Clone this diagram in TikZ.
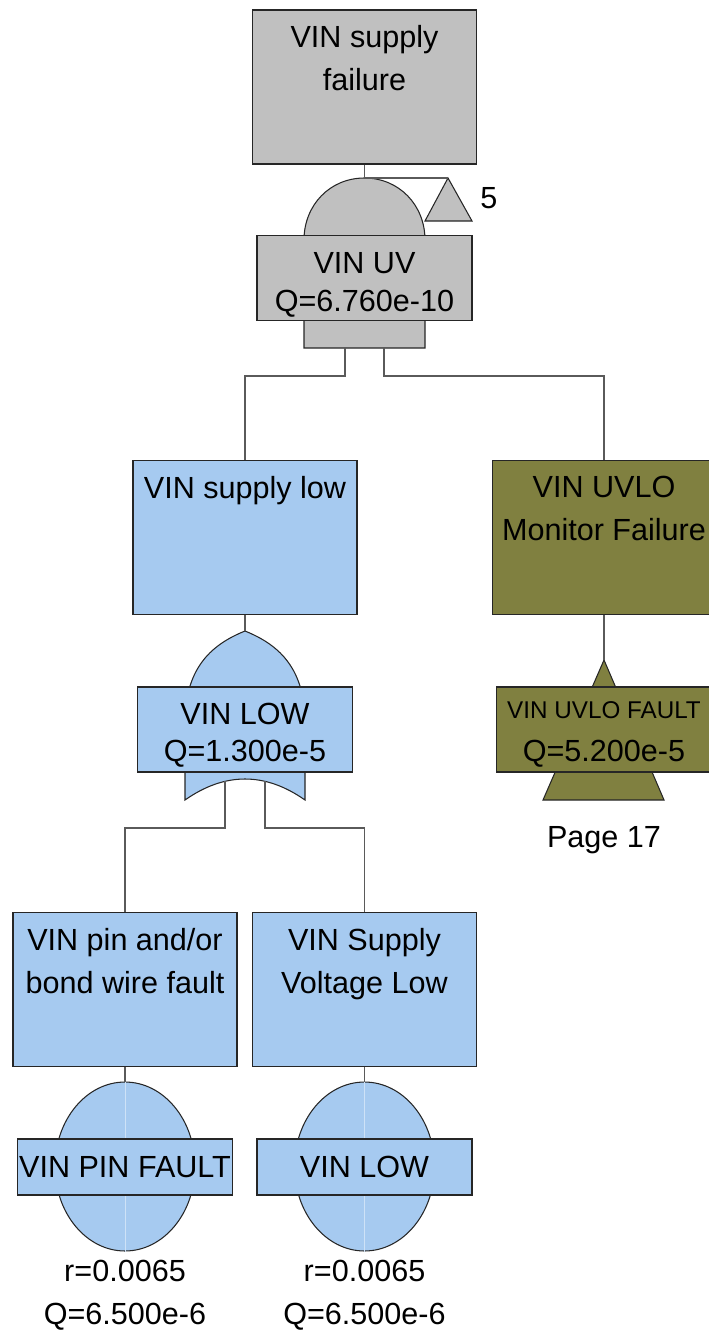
\documentclass[tikz,border=0pt]{standalone}
\usepackage{fontspec}
\setmainfont{Liberation Sans}
\usepackage{xcolor}
\usetikzlibrary{positioning,shapes.geometric}

\definecolor{evgray}{RGB}{192,192,192}
\definecolor{evblue}{RGB}{166,202,240}
\definecolor{evolive}{RGB}{128,128,64}
\definecolor{wiregray}{RGB}{90,90,90}

\tikzset{
  box/.style={draw=black!85, line width=0.6pt, minimum width=4.48cm, minimum height=3.08cm, inner sep=0pt},
  lbl/.style={draw=black!85, line width=0.6pt, minimum width=4.3cm, minimum height=1.7cm, inner sep=0pt, align=center, font=\fontsize{17.4}{21.5}\selectfont},
  lbltxt/.style={inner sep=0pt, align=center, font=\fontsize{17.4}{21.5}\selectfont},
  txt/.style={inner sep=0pt, align=center, font=\fontsize{17.4}{24.4}\selectfont},
  wire/.style={draw=wiregray, line width=0.6pt},
  gate/.style={draw=black!85, line width=0.6pt},
  basic/.style={ellipse, draw=black!85, line width=0.6pt, fill=evblue, minimum width=2.8cm, minimum height=3.38cm, inner sep=0pt}
}

\begin{document}
\begin{tikzpicture}[x=0.02cm, y=-0.02cm]
\useasboundingbox (0,0) rectangle (709,1331);
\clip (0,0) rectangle (709,1331);

% Top event
\node[box, fill=evgray] (fail) at (364.5,87) {};
\node[txt, below=9pt of fail.north] (failt) {VIN supply\\failure};

% AND gate VIN UV
\coordinate (uvtop) at (364.5,178);
\coordinate (uvl) at (345,348);
\coordinate (uvr) at (384,348);
\draw[gate, fill=evgray] (304,348) -- (304,240) .. controls (304,205) and (330,178) .. (uvtop) .. controls (399,178) and (425,205) .. (425,240) -- (425,348) -- cycle;
\node[lbl, fill=evgray] (uv) at (364.5,278) {};
\node[lbltxt] (uvt) at ([yshift=-3.8pt]uv.center) {VIN UV\\Q=6.760e-10};

% Transfer to 5
\coordinate (trtop) at (448,178);
\draw[gate, fill=evgray] (trtop) -- (472,221) -- (425,221) -- cycle;
\node[txt, anchor=west] (trnum) at (480,198) {5};
\draw[wire] (fail.south) -- (uvtop) -- (trtop);

% Second level
\node[box, fill=evblue] (low) at (245,537.5) {};
\node[txt, below=9pt of low.north] (lowt) {VIN supply low};
\node[box, fill=evolive] (uvlo) at (604,537.5) {};
\node[txt, below=9pt of uvlo.north] (uvlot) {VIN UVLO\\Monitor Failure};
\draw[wire] (uvl) -- ++(0,28) -| (low.north);
\draw[wire] (uvr) -- ++(0,28) -| (uvlo.north);

% OR gate VIN LOW
\coordinate (ortop) at (245,631);
\coordinate (orl) at (225,781);
\coordinate (orr) at (265,781);
\draw[gate, fill=evblue] (185,800) -- (185,720) .. controls (186,666) and (213,644) .. (ortop) .. controls (277,644) and (304,666) .. (305,720) -- (305,800) .. controls (265,772) and (225,772) .. (185,800) -- cycle;
\node[lbl, fill=evblue] (orlow) at (245,729.5) {};
\node[lbltxt] (orlowt) at ([yshift=-3.3pt]orlow.center) {VIN LOW\\Q=1.300e-5};
\draw[wire] (low.south) -- (ortop);

% Transfer UVLO fault
\coordinate (uftop) at (604,660);
\draw[gate, fill=evolive] (uftop) -- (664,800) -- (543,800) -- cycle;
\node[lbl, fill=evolive] (uvf) at (604,729.5) {};
\node[lbltxt] (uvft) at ([yshift=-2.8pt]uvf.center) {{\fontsize{13.8}{17}\selectfont VIN UVLO FAULT}\\[3pt]Q=5.200e-5};
\node[txt] (pg) at (604,840) {Page 17};
\draw[wire] (uvlo.south) -- (uftop);

% Basic events
\node[box, fill=evblue] (pin) at (125,989.5) {};
\node[txt, below=9pt of pin.north] (pint) {VIN pin and/or\\bond wire fault};
\node[box, fill=evblue] (sup) at (364.5,989.5) {};
\node[txt, below=9pt of sup.north] (supt) {VIN Supply\\Voltage Low};
\draw[wire] (orl) -- ++(0,47) -| (pin.north);
\draw[wire] (orr) -- ++(0,47) -| (sup.north);

\node[basic] (pinc) at (125,1166.5) {};
\draw[evblue!55!white, line width=0.4pt] (pinc.north) -- (pinc.south);
\node[lbl, fill=evblue, minimum height=1.12cm] (pinl) at (125,1167) {VIN PIN FAULT};
\node[txt, below=4.5pt of pinc.south] (pinq) {r=0.0065\\Q=6.500e-6};
\draw[wire] (pin.south) -- (pinc.north);

\node[basic] (supc) at (364.5,1166.5) {};
\draw[evblue!55!white, line width=0.4pt] (supc.north) -- (supc.south);
\node[lbl, fill=evblue, minimum height=1.12cm] (supl) at (364.5,1167) {VIN LOW};
\node[txt, below=4.5pt of supc.south] (supq) {r=0.0065\\Q=6.500e-6};
\draw[wire] (sup.south) -- (supc.north);
\end{tikzpicture}
\end{document}
